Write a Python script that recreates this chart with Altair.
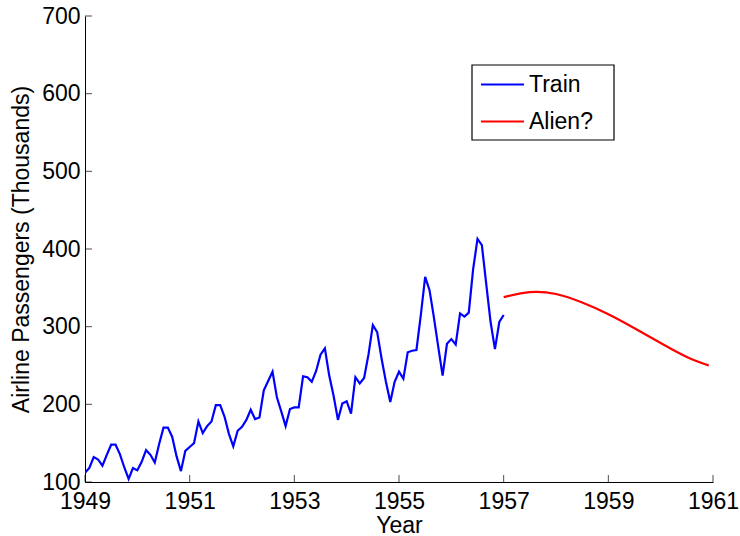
import altair as alt
import pandas as pd

# Monthly airline passengers (thousands), Jan 1949 .. Jan 1957
train_values = [
    112, 118, 132, 129, 121, 135, 148, 148, 136, 119, 104, 118,
    115, 126, 141, 135, 125, 149, 170, 170, 158, 133, 114, 140,
    145, 150, 178, 163, 172, 178, 199, 199, 184, 162, 146, 166,
    171, 180, 193, 181, 183, 218, 230, 242, 209, 191, 172, 194,
    196, 196, 236, 235, 229, 243, 264, 272, 237, 211, 180, 201,
    204, 188, 235, 227, 234, 264, 302, 293, 259, 229, 203, 229,
    242, 233, 267, 269, 270, 315, 364, 347, 312, 274, 237, 278,
    284, 277, 317, 313, 318, 374, 413, 405, 355, 306, 271, 306,
    315,
]
train_start = 1949

# Extrapolated curve
alien_years = [1957.0, 1957.5, 1958.0, 1958.5, 1959.0, 1959.5,
               1960.0, 1960.5, 1960.92]
alien_values = [338, 344.5, 342, 331, 316, 298, 279, 261, 250]

x_ticks = [1949, 1951, 1953, 1955, 1957, 1959, 1961]
y_ticks = [100, 200, 300, 400, 500, 600, 700]
series_names = ["Train", "Alien?"]
series_colors = ["#0000ff", "#ff0000"]

train_df = pd.DataFrame({
    "Year": [train_start + i / 12 for i in range(len(train_values))],
    "Passengers": train_values,
    "Series": "Train",
})
alien_df = pd.DataFrame({
    "Year": alien_years,
    "Passengers": alien_values,
    "Series": "Alien?",
})
data = pd.concat([train_df, alien_df], ignore_index=True)

FONT = "Liberation Sans"
FS = 23

x_scale = alt.Scale(domain=[1949, 1961], nice=False, zero=False)
y_scale = alt.Scale(domain=[100, 700], nice=False, zero=False)

x_enc = alt.X("Year:Q", scale=x_scale,
              axis=alt.Axis(values=x_ticks, format="d", tickSize=0,
                            labelFont=FONT, labelFontSize=FS, labelColor="black",
                            labelPadding=8, title="Year", titleFont=FONT,
                            titleFontSize=FS, titleFontWeight="normal",
                            titleColor="black", titlePadding=1,
                            domainColor="black", domainWidth=1.2, grid=False,
                            labelFlush=False, labelOverlap=False))
y_enc = alt.Y("Passengers:Q", scale=y_scale,
              axis=alt.Axis(values=y_ticks, tickSize=0, labelFont=FONT,
                            labelFontSize=FS, labelColor="black", labelPadding=5,
                            title="Airline Passengers (Thousands)",
                            titleFont=FONT, titleFontSize=FS,
                            titleFontWeight="normal", titleColor="black",
                            titlePadding=8, domainColor="black", domainWidth=1,
                            grid=False, labelFlush=False, labelOverlap=False))
color_enc = alt.Color("Series:N",
                      scale=alt.Scale(domain=series_names, range=series_colors),
                      sort=series_names,
                      legend=alt.Legend(title=None, orient="none", legendX=387,
                                        legendY=38, symbolType="stroke",
                                        symbolSize=1849, symbolStrokeWidth=2,
                                        labelFont=FONT, labelFontSize=FS,
                                        labelColor="black", padding=8,
                                        rowPadding=2, labelOffset=4))

# Legend frame
legend_box = alt.Chart(pd.DataFrame({"k": [0]})).mark_rect(
    fill="white", stroke="black", strokeWidth=1.2
).encode(x=alt.value(387), x2=alt.value(529), y=alt.value(49), y2=alt.value(124))

base = alt.Chart(data).encode(x=x_enc, y=y_enc, color=color_enc)
train_line = base.transform_filter(alt.datum.Series == "Train").mark_line(
    strokeWidth=2.2, clip=True)
alien_line = base.transform_filter(alt.datum.Series == "Alien?").mark_line(
    strokeWidth=2.2, clip=True, interpolate="natural")

# Inward tick marks along both axes
x_tick_df = pd.DataFrame({"Year": x_ticks})
y_tick_df = pd.DataFrame({"Passengers": y_ticks})
x_tick_marks = alt.Chart(x_tick_df).mark_tick(color="black", thickness=1, size=7).encode(
    x=alt.X("Year:Q", scale=x_scale), y=alt.value(462.5))
y_tick_marks = alt.Chart(y_tick_df).mark_tick(color="black", thickness=1, size=7).encode(
    y=alt.Y("Passengers:Q", scale=y_scale), x=alt.value(3.5))

chart = alt.layer(legend_box, train_line, alien_line, x_tick_marks, y_tick_marks).properties(
    width=628, height=466,
    background="white",
    autosize=alt.AutoSizeParams(type="none"),
    padding={"left": 85, "top": 16, "right": 27, "bottom": 54},
).configure_view(strokeWidth=0, stroke=None)

chart.save("out.html", embed_options={"renderer": "svg", "actions": False})
